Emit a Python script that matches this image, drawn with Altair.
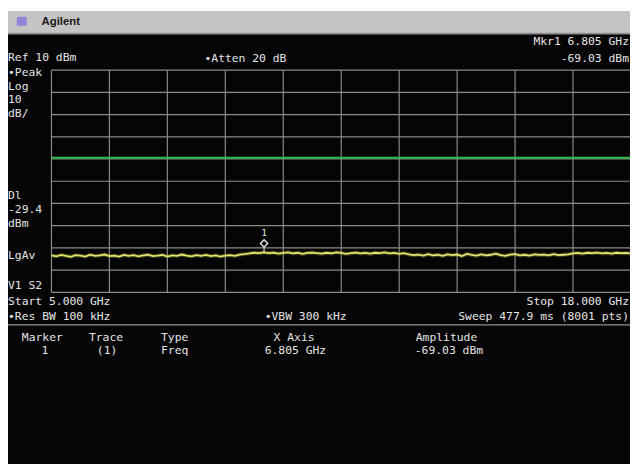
import altair as alt
import pandas as pd

# ---- data ----
START_GHZ = 5.0
STOP_GHZ = 18.0
REF_DBM = 10
DB_PER_DIV = 10
GRID_FREQ = [5.0, 6.3, 7.6, 8.9, 10.2, 11.5, 12.8, 14.1, 15.4, 16.7, 18.0]
GRID_DB = [10, 0, -10, -20, -30, -40, -50, -60, -70, -80, -90]
DISPLAY_LINE = -29.4

TRACE_DBM = [
    -73.4, -73.8, -73.2, -73.6, -74.0, -73.3, -73.5, -73.9, -73.1, -73.6,
    -73.4, -73.0, -73.7, -73.5, -73.9, -73.2, -73.6, -73.3, -73.8, -73.4,
    -73.1, -73.7, -73.5, -73.2, -73.9, -73.4, -73.6, -73.0, -73.5, -73.8,
    -73.3, -73.6, -73.2, -73.7, -73.4, -73.9, -73.5, -73.3, -73.6,
    -73.0, -72.8, -72.5, -72.2, -72.4, -72.0,
    -72.4, -72.1, -72.6, -72.3, -72.0, -72.5, -72.2, -72.7, -72.3, -72.1,
    -72.4, -72.6, -72.2, -72.5, -72.0, -72.3, -72.7, -72.4, -72.1, -72.5,
    -72.3, -72.6, -72.2, -72.4, -72.0, -72.5, -72.3, -72.7, -72.4,
    -72.9, -73.3, -73.0, -73.5, -72.8, -73.4, -73.1, -73.6, -72.9, -73.3,
    -73.0, -73.7, -72.7, -73.2, -73.5, -72.9, -73.4, -73.1, -72.6, -73.3,
    -73.6, -73.0, -72.8, -73.4, -73.1, -73.5, -72.9, -73.2, -73.0, -73.4,
    -72.8, -73.3, -73.1, -72.9,
    -72.5, -72.3, -72.6, -72.2, -72.4, -72.1, -72.5, -72.3, -72.6, -72.2,
    -72.4, -72.3, -72.5,
]
N_PTS = len(TRACE_DBM)
TRACE_GHZ = [START_GHZ + i * (STOP_GHZ - START_GHZ) / (N_PTS - 1) for i in range(N_PTS)]

MARKER_GHZ_POS = 9.77      # where the marker sits on screen
MARKER_DISP_DBM = -68.0    # diamond position
MARKER_TRACE_DBM = -72.0

W, H = 630, 459
TXT = "#e4e4e4"
MONO = "DejaVu Sans Mono"
FS = 11.5

xs = alt.Scale(domain=[START_GHZ, STOP_GHZ], range=[44, 631], nice=False, zero=False)
ys = alt.Scale(domain=[-90, 10], range=[285, 60], nice=False, zero=False)


def label(txt, x, y, align="left", color=TXT, size=FS, weight="normal", font=MONO):
    return alt.Chart(alt.Data(values=[{"a": 1}])).mark_text(
        text=txt, align=align, baseline="middle", font=font, fontSize=size,
        fontWeight=weight, color=color
    ).encode(x=alt.value(x), y=alt.value(y))


one = alt.Data(values=[{"a": 1}])

# top gray bar
bar = alt.Chart(one).mark_rect(color="#c4c4c4").encode(
    x=alt.value(0), x2=alt.value(W), y=alt.value(0), y2=alt.value(23))
bar_edge = alt.Chart(one).mark_rect(color="#8e8e8e").encode(
    x=alt.value(0), x2=alt.value(W), y=alt.value(22), y2=alt.value(24))
logo = alt.Chart(one).mark_rect(color="#8f86d8").encode(
    x=alt.value(9), x2=alt.value(19), y=alt.value(6), y2=alt.value(15))
brand = label("Agilent", 34, 11, color="#1a1a1a", size=11.5, weight="bold", font="Liberation Sans")

# graticule
df_h = pd.DataFrame({"db": GRID_DB, "f0": START_GHZ, "f1": STOP_GHZ})
df_v = pd.DataFrame({"f": GRID_FREQ, "d0": -90, "d1": 10})
hgrid = alt.Chart(df_h).mark_rule(color="#8a8a8a", strokeWidth=1.2).encode(
    x=alt.X("f0:Q", scale=xs, axis=None), x2="f1:Q",
    y=alt.Y("db:Q", scale=ys, axis=None))
vgrid = alt.Chart(df_v).mark_rule(color="#8a8a8a", strokeWidth=1.2).encode(
    x=alt.X("f:Q", scale=xs, axis=None),
    y=alt.Y("d0:Q", scale=ys, axis=None), y2="d1:Q")

# display line
df_dl = pd.DataFrame({"dl": [DISPLAY_LINE], "f0": [START_GHZ], "f1": [STOP_GHZ]})
dline = alt.Chart(df_dl).mark_rule(color="#33c04f", strokeWidth=2).encode(
    x=alt.X("f0:Q", scale=xs, axis=None), x2="f1:Q",
    y=alt.Y("dl:Q", scale=ys, axis=None))

# trace
df_tr = pd.DataFrame({"f": TRACE_GHZ, "a": TRACE_DBM})
glow = alt.Chart(df_tr).mark_line(color="#8c8c30", strokeWidth=4, opacity=0.4).encode(
    x=alt.X("f:Q", scale=xs, axis=None), y=alt.Y("a:Q", scale=ys, axis=None))
trace = alt.Chart(df_tr).mark_line(color="#e2e272", strokeWidth=1.8).encode(
    x=alt.X("f:Q", scale=xs, axis=None), y=alt.Y("a:Q", scale=ys, axis=None))

# marker
df_mk = pd.DataFrame({"f": [MARKER_GHZ_POS], "a": [MARKER_DISP_DBM],
                      "t": [MARKER_TRACE_DBM], "n": ["1"]})
stem = alt.Chart(df_mk).mark_rule(color="#e8e8e8", strokeWidth=1).encode(
    x=alt.X("f:Q", scale=xs, axis=None),
    y=alt.Y("a:Q", scale=ys, axis=None), y2="t:Q")
diamond = alt.Chart(df_mk).mark_point(shape="diamond", filled=True, color="#101010",
                                      stroke="#f0f0f0", strokeWidth=1.3, size=55, opacity=1).encode(
    x=alt.X("f:Q", scale=xs, axis=None), y=alt.Y("a:Q", scale=ys, axis=None))
mnum = alt.Chart(df_mk).mark_text(color="#e8e8e8", font=MONO, fontSize=9, dy=-11).encode(
    x=alt.X("f:Q", scale=xs, axis=None), y=alt.Y("a:Q", scale=ys, axis=None), text="n:N")

# separator line under the status rows
sep = alt.Chart(one).mark_rule(color="#909090", strokeWidth=1.5).encode(
    x=alt.value(0), x2=alt.value(W), y=alt.value(318))

texts = [
    label("Mkr1 6.805 GHz", 629, 32, align="right"),
    label("Ref 10 dBm", 0, 48),
    label("\u2022Atten 20 dB", 199, 49),
    label("-69.03 dBm", 629, 49, align="right"),
    label("\u2022Peak", 0, 63),
    label("Log", 0, 77),
    label("10", 0, 90),
    label("dB/", 0, 104),
    label("Dl", 0, 188),
    label("-29.4", 0, 202),
    label("dBm", 0, 216),
    label("LgAv", 0, 248),
    label("V1  S2", 0, 279),
    label("Start 5.000 GHz", 0, 295),
    label("Stop 18.000 GHz", 629, 295, align="right"),
    label("\u2022Res BW 100 kHz", 0, 310),
    label("\u2022VBW 300 kHz", 260, 310),
    label("Sweep 477.9 ms (8001 pts)", 629, 310, align="right"),
    label("Marker", 14, 331),
    label("Trace", 82, 331),
    label("Type", 155, 331),
    label("X Axis", 269, 331),
    label("Amplitude", 413, 331),
    label("1", 34, 345),
    label("(1)", 90, 345),
    label("Freq", 155, 345),
    label("6.805 GHz", 260, 345),
    label("-69.03 dBm", 412, 345),
]

chart = alt.layer(
    bar, bar_edge, logo, brand, hgrid, vgrid, dline, glow, trace, stem, diamond, mnum, sep, *texts
).properties(
    width=W, height=H, padding=0, autosize=alt.AutoSizeParams(type="none"), background="white"
).configure_view(stroke=None, fill="#050505")

chart.save("out.html", embed_options={"renderer": "svg", "actions": False})
